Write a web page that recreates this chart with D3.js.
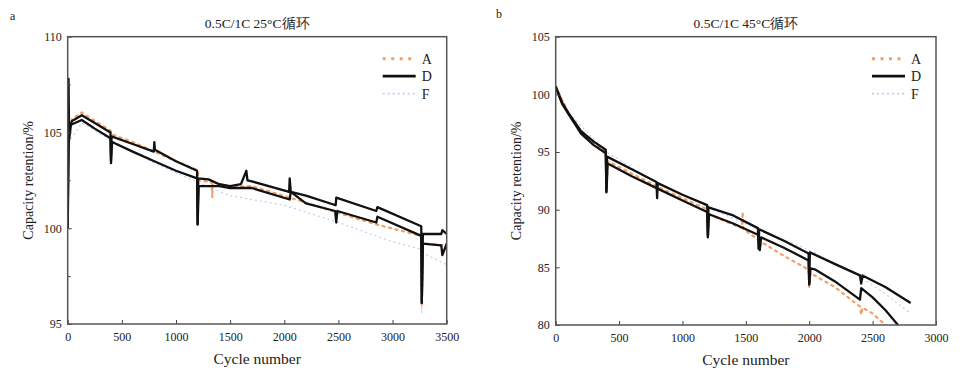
<!DOCTYPE html>
<html><head><meta charset="utf-8">
<script src="https://cdn.jsdelivr.net/npm/d3@7/dist/d3.min.js"></script>
<style>body{margin:0;background:#fff}svg{display:block}text{font-family:"Times New Roman","Liberation Serif","DejaVu Serif",serif !important;fill:#222}</style>
</head><body>
<svg id="c" width="966" height="375"></svg>
<script>
// ---- Panel a: 0.5C/1C 25°C ----
const titleA = "0.5C/1C 25°C循环";
const xTicksA = [0,500,1000,1500,2000,2500,3000,3500];
const yTicksA = [95,100,105,110];
const a_A = [[0,100.0],[10,105.0],[40,105.7],[130,106.05],[250,105.6],[395,105.1],[410,104.9],[600,104.5],[800,104.0],[1000,103.5],[1195,103.05],[1210,102.5],[1330,102.4],[1335,101.6],[1340,102.4],[1500,102.15],[1700,102.2],[2050,101.6],[2500,100.8],[2850,100.2],[3265,99.6],[3270,96.0],[3280,99.2],[3500,99.1]];
const a_D1 = [[0,100.0],[8,107.8],[12,105.2],[40,105.6],[130,105.9],[250,105.5],[395,105.0],[400,103.4],[405,104.8],[600,104.4],[795,104.0],[800,104.5],[805,104.1],[1000,103.5],[1195,103.0],[1200,100.2],[1205,102.6],[1300,102.55],[1400,102.3],[1500,102.2],[1600,102.3],[1650,103.0],[1660,102.5],[1700,102.45],[2045,101.9],[2050,102.6],[2060,101.9],[2200,101.7],[2475,101.2],[2480,101.6],[2850,100.9],[2860,101.1],[3265,100.1],[3270,96.1],[3280,99.7],[3450,99.7],[3460,99.9],[3500,99.7]];
const a_D2 = [[0,100.0],[10,104.5],[30,105.4],[130,105.65],[250,105.2],[395,104.7],[400,103.5],[410,104.5],[600,104.0],[800,103.5],[1000,103.0],[1195,102.6],[1200,100.2],[1210,102.2],[1400,102.2],[1500,102.1],[1650,102.1],[1700,102.1],[2050,101.5],[2060,101.9],[2200,101.3],[2470,100.9],[2480,100.3],[2490,100.9],[2850,100.3],[2860,100.6],[3265,99.6],[3270,96.1],[3280,99.2],[3450,99.1],[3460,98.6],[3500,99.2]];
const a_F = [[0,100],[10,104.5],[130,105.5],[400,104.6],[800,103.4],[1200,102.4],[1500,101.7],[2000,101.2],[2500,100.3],[3000,99.3],[3265,98.9],[3270,95.6],[3280,98.7],[3500,98.1]];

// ---- Panel b: 0.5C/1C 45°C ----
const titleB = "0.5C/1C 45°C循环";
const xTicksB = [0,500,1000,1500,2000,2500,3000];
const yTicksB = [80,85,90,95,100,105];
const b_A = [[0,100.7],[100,98.4],[200,96.8],[395,95.0],[400,91.8],[410,94.2],[800,92.0],[1200,90.0],[1205,87.7],[1210,89.6],[1400,88.7],[1470,88.4],[1475,89.8],[1480,88.3],[1600,87.4],[1610,86.6],[1620,87.2],[1800,86.0],[1995,84.8],[2000,83.3],[2010,84.5],[2200,83.3],[2400,81.6],[2410,80.9],[2420,81.5],[2500,81.0],[2600,80.0],[2650,79.3]];
const b_D1 = [[0,100.7],[50,99.3],[100,98.4],[200,96.8],[300,95.9],[395,95.2],[400,91.6],[405,94.6],[600,93.5],[795,92.4],[800,91.0],[805,92.3],[1000,91.3],[1195,90.4],[1200,87.8],[1205,90.2],[1400,89.5],[1595,88.4],[1600,86.6],[1605,88.3],[1800,87.3],[1995,86.2],[2000,83.6],[2005,86.3],[2200,85.3],[2400,84.3],[2410,83.6],[2420,84.3],[2600,83.3],[2800,81.9]];
const b_D2 = [[0,100.6],[50,99.2],[100,98.3],[200,96.6],[300,95.6],[395,94.9],[400,91.5],[410,94.0],[600,92.9],[800,91.85],[1000,90.8],[1195,89.8],[1200,87.6],[1210,89.6],[1400,88.8],[1600,87.8],[1610,86.5],[1620,87.6],[1800,86.7],[1995,85.6],[2000,83.5],[2010,84.9],[2050,84.8],[2200,83.8],[2400,82.2],[2410,83.2],[2500,82.4],[2600,81.3],[2700,80.0],[2750,79.2]];
const b_F = [[0,100.7],[100,98.4],[400,95.0],[800,92.3],[1200,90.2],[1600,88.3],[2000,86.5],[2400,84.2],[2600,82.7],[2800,81.0]];

const legendNames = ["A","D","F"];

const FONT = "'Times New Roman','Liberation Serif','DejaVu Serif',serif";
const svg = d3.select("#c");
const styles = {
  A:{stroke:"#f2a06a",width:2.2,dash:"2.2,4.5"},
  D:{stroke:"#111",width:2.3,dash:null},
  F:{stroke:"#c9c9f2",width:1.2,dash:"2,3"}
};

function panel(o){
  const g = svg.append("g").attr("font-family",FONT);
  const x = d3.scaleLinear().domain(o.xd).range([o.x0,o.x1]);
  const y = d3.scaleLinear().domain(o.yd).range([o.y1,o.y0]);
  const cid = "clip"+o.id;
  g.append("clipPath").attr("id",cid).append("rect")
    .attr("x",o.x0).attr("y",o.y0).attr("width",o.x1-o.x0).attr("height",o.y1-o.y0);
  const line = d3.line().x(d=>x(d[0])).y(d=>y(d[1]));
  const lg = g.append("g").attr("clip-path",`url(#${cid})`);
  o.series.forEach(s=>{
    const st = styles[s.k];
    lg.append("path").datum(s.d).attr("d",line).attr("fill","none")
      .attr("stroke",st.stroke).attr("stroke-width",st.width)
      .attr("stroke-dasharray",st.dash).attr("stroke-linejoin","round")
      .attr("stroke-linecap",s.k==="A"?"round":"butt");
  });
  const xa = g.append("g").attr("transform",`translate(0,${o.y1})`)
    .call(d3.axisBottom(x).tickValues(o.xt).tickSize(-4).tickPadding(8).tickFormat(d3.format("d")));
  const ya = g.append("g").attr("transform",`translate(${o.x0},0)`)
    .call(d3.axisLeft(y).tickValues(o.yt).tickSize(-4).tickPadding(6).tickFormat(d3.format("d")));
  if(o.ym){
    g.append("g").attr("transform",`translate(${o.x0},0)`)
      .call(d3.axisLeft(y).tickValues(o.ym).tickSize(-3).tickFormat(""))
      .call(a=>a.select(".domain").remove());
  }
  [xa,ya].forEach(a=>{
    a.attr("font-family",FONT).attr("font-size",12);
    a.selectAll("text").attr("fill","#222");
    a.select(".domain").attr("stroke","none");
  });
  g.selectAll(".tick line").attr("stroke","#444");
  g.append("rect").attr("x",o.x0).attr("y",o.y0).attr("width",o.x1-o.x0).attr("height",o.y1-o.y0)
    .attr("fill","none").attr("stroke","#555").attr("stroke-width",1.5);
  g.append("text").attr("x",(o.x0+o.x1)/2).attr("y",o.y0-9).attr("text-anchor","middle")
    .attr("font-size",13.5).text(o.title);
  g.append("text").attr("x",o.lx).attr("y",o.ly).attr("font-size",12).text(o.letter);
  g.append("text").attr("x",(o.x0+o.x1)/2).attr("y",o.y1+40).attr("text-anchor","middle")
    .attr("font-size",15.5).text("Cycle number");
  g.append("text").attr("transform",`translate(${o.x0-40},${(o.y0+o.y1)/2}) rotate(-90)`)
    .attr("text-anchor","middle").attr("dy","0.35em").attr("font-size",14).text("Capacity retention/%");
  legendNames.forEach((n,i)=>{
    const st = styles[n];
    const ly = o.y0+22+i*17.5;
    g.append("line").attr("x1",o.x1-64).attr("x2",o.x1-31).attr("y1",ly).attr("y2",ly)
      .attr("stroke",st.stroke).attr("stroke-width",n==="A"?3:st.width+0.5).attr("stroke-dasharray",n==="A"?"3,5.5":st.dash);
    g.append("text").attr("x",o.x1-25).attr("y",ly).attr("dy","0.35em").attr("font-size",14).text(n);
  });
}

panel({id:"a",x0:67.7,x1:446.7,y0:36.7,y1:324,xd:[0,3500],yd:[95,110],xt:xTicksA,yt:yTicksA,ym:[97.5,102.5,107.5],
  title:titleA,letter:"a",lx:10,ly:20,
  series:[{k:"F",d:a_F},{k:"A",d:a_A},{k:"D",d:a_D2},{k:"D",d:a_D1}]});
panel({id:"b",x0:555.7,x1:936,y0:36.7,y1:325,xd:[0,3000],yd:[80,105],xt:xTicksB,yt:yTicksB,ym:null,
  title:titleB,letter:"b",lx:496,ly:18,
  series:[{k:"F",d:b_F},{k:"A",d:b_A},{k:"D",d:b_D2},{k:"D",d:b_D1}]});
</script>
</body></html>
